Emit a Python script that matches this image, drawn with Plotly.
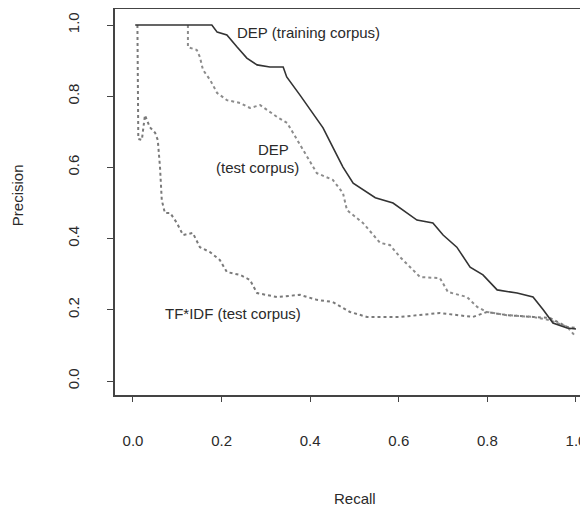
import plotly.graph_objects as go

# ---- data ----
dep_train_recall = [0.005, 0.178, 0.19, 0.212, 0.235, 0.257, 0.28, 0.309, 0.339, 0.347, 0.377,
                    0.406, 0.429, 0.451, 0.474, 0.497, 0.519, 0.547, 0.587, 0.618, 0.641, 0.677,
                    0.70, 0.731, 0.761, 0.79, 0.822, 0.867, 0.903, 0.926, 0.948, 0.98, 1.0]
dep_train_prec = [1.0, 1.0, 0.98, 0.972, 0.938, 0.907, 0.888, 0.882, 0.882, 0.854, 0.803,
                  0.753, 0.711, 0.657, 0.601, 0.556, 0.537, 0.515, 0.5, 0.472, 0.452, 0.444,
                  0.41, 0.376, 0.32, 0.298, 0.256, 0.247, 0.236, 0.2, 0.163, 0.149, 0.146]

dep_test_recall = [0.124, 0.124, 0.144, 0.151, 0.158, 0.174, 0.19, 0.212, 0.242, 0.264, 0.287,
                   0.302, 0.325, 0.348, 0.361, 0.384, 0.415, 0.451, 0.474, 0.483, 0.519, 0.558,
                   0.58, 0.603, 0.625, 0.648, 0.693, 0.711, 0.754, 0.777, 0.799, 0.844, 0.903,
                   0.941, 0.98, 1.0]
dep_test_prec = [1.0, 0.938, 0.93, 0.91, 0.874, 0.846, 0.809, 0.789, 0.781, 0.767, 0.775,
                 0.761, 0.742, 0.725, 0.697, 0.649, 0.584, 0.565, 0.528, 0.48, 0.444, 0.388,
                 0.382, 0.348, 0.32, 0.292, 0.289, 0.25, 0.236, 0.208, 0.194, 0.185, 0.18,
                 0.171, 0.152, 0.124]

tfidf_recall = [0.01, 0.012, 0.02, 0.027, 0.038, 0.05, 0.056, 0.061, 0.065, 0.072, 0.084,
                0.099, 0.113, 0.135, 0.151, 0.174, 0.196, 0.212, 0.242, 0.264, 0.28, 0.325,
                0.377, 0.415, 0.451, 0.49, 0.528, 0.603, 0.693, 0.767, 0.799, 0.844, 0.903,
                0.941, 0.98, 1.0]
tfidf_prec = [1.0, 0.68, 0.677, 0.747, 0.713, 0.697, 0.677, 0.6, 0.508, 0.472, 0.472,
              0.444, 0.41, 0.416, 0.376, 0.362, 0.34, 0.306, 0.298, 0.284, 0.247, 0.236,
              0.242, 0.228, 0.222, 0.194, 0.18, 0.18, 0.191, 0.18, 0.194, 0.185, 0.18,
              0.177, 0.152, 0.149]

tick_vals = [0.0, 0.2, 0.4, 0.6, 0.8, 1.0]
tick_text = ["0.0", "0.2", "0.4", "0.6", "0.8", "1.0"]

FONT = "Liberation Sans, Arial, Helvetica, sans-serif"
TXT = "#2a2a2a"

fig = go.Figure()
fig.add_trace(go.Scatter(x=tfidf_recall, y=tfidf_prec, mode="lines",
                         line=dict(color="#7a7a7a", width=2, dash="dot")))
fig.add_trace(go.Scatter(x=dep_test_recall, y=dep_test_prec, mode="lines",
                         line=dict(color="#8c8c8c", width=2, dash="dot")))
fig.add_trace(go.Scatter(x=dep_train_recall, y=dep_train_prec, mode="lines",
                         line=dict(color="#333333", width=1.6)))

fig.add_annotation(x=0.230, y=0.978, text="DEP (training corpus)", showarrow=False,
                   xanchor="left", yanchor="middle")
fig.add_annotation(x=0.318, y=0.649, text="DEP", showarrow=False,
                   xanchor="center", yanchor="middle")
fig.add_annotation(x=0.280, y=0.601, text="(test corpus)", showarrow=False,
                   xanchor="center", yanchor="middle")
fig.add_annotation(x=0.068, y=0.191, text="TF*IDF (test corpus)", showarrow=False,
                   xanchor="left", yanchor="middle")

# axis titles
fig.add_annotation(xref="paper", yref="paper", x=0.507, y=-0.269, text="Recall",
                   showarrow=False, xanchor="center", yanchor="middle")
fig.add_annotation(xref="paper", yref="paper", x=-0.207, y=0.518, text="Precision",
                   showarrow=False, xanchor="center", yanchor="middle", textangle=-90)

# the page body has an 8px default margin, so the figure is 8px smaller
fig.update_layout(
    width=580, height=502,
    margin=dict(l=107, r=0, t=1, b=115),
    plot_bgcolor="white", paper_bgcolor="white",
    showlegend=False,
    font=dict(family=FONT, size=15, color=TXT),
)
fig.update_xaxes(range=[-0.0406, 1.0271], tickvals=tick_vals, ticktext=tick_text,
                 showline=True, linecolor="#444", linewidth=1.5, mirror=True,
                 ticks="outside", ticklen=5, tickcolor="#444", tickwidth=1.2,
                 showgrid=False, zeroline=False, ticklabelstandoff=26)
fig.update_yaxes(range=[-0.0393, 1.045], tickvals=tick_vals, ticktext=tick_text,
                 showline=True, linecolor="#444", linewidth=1.5, mirror=False,
                 ticks="outside", ticklen=6, tickcolor="#444", tickwidth=1.2,
                 tickangle=-90, showgrid=False, zeroline=False, ticklabelstandoff=22)

fig.write_html("out.html")
